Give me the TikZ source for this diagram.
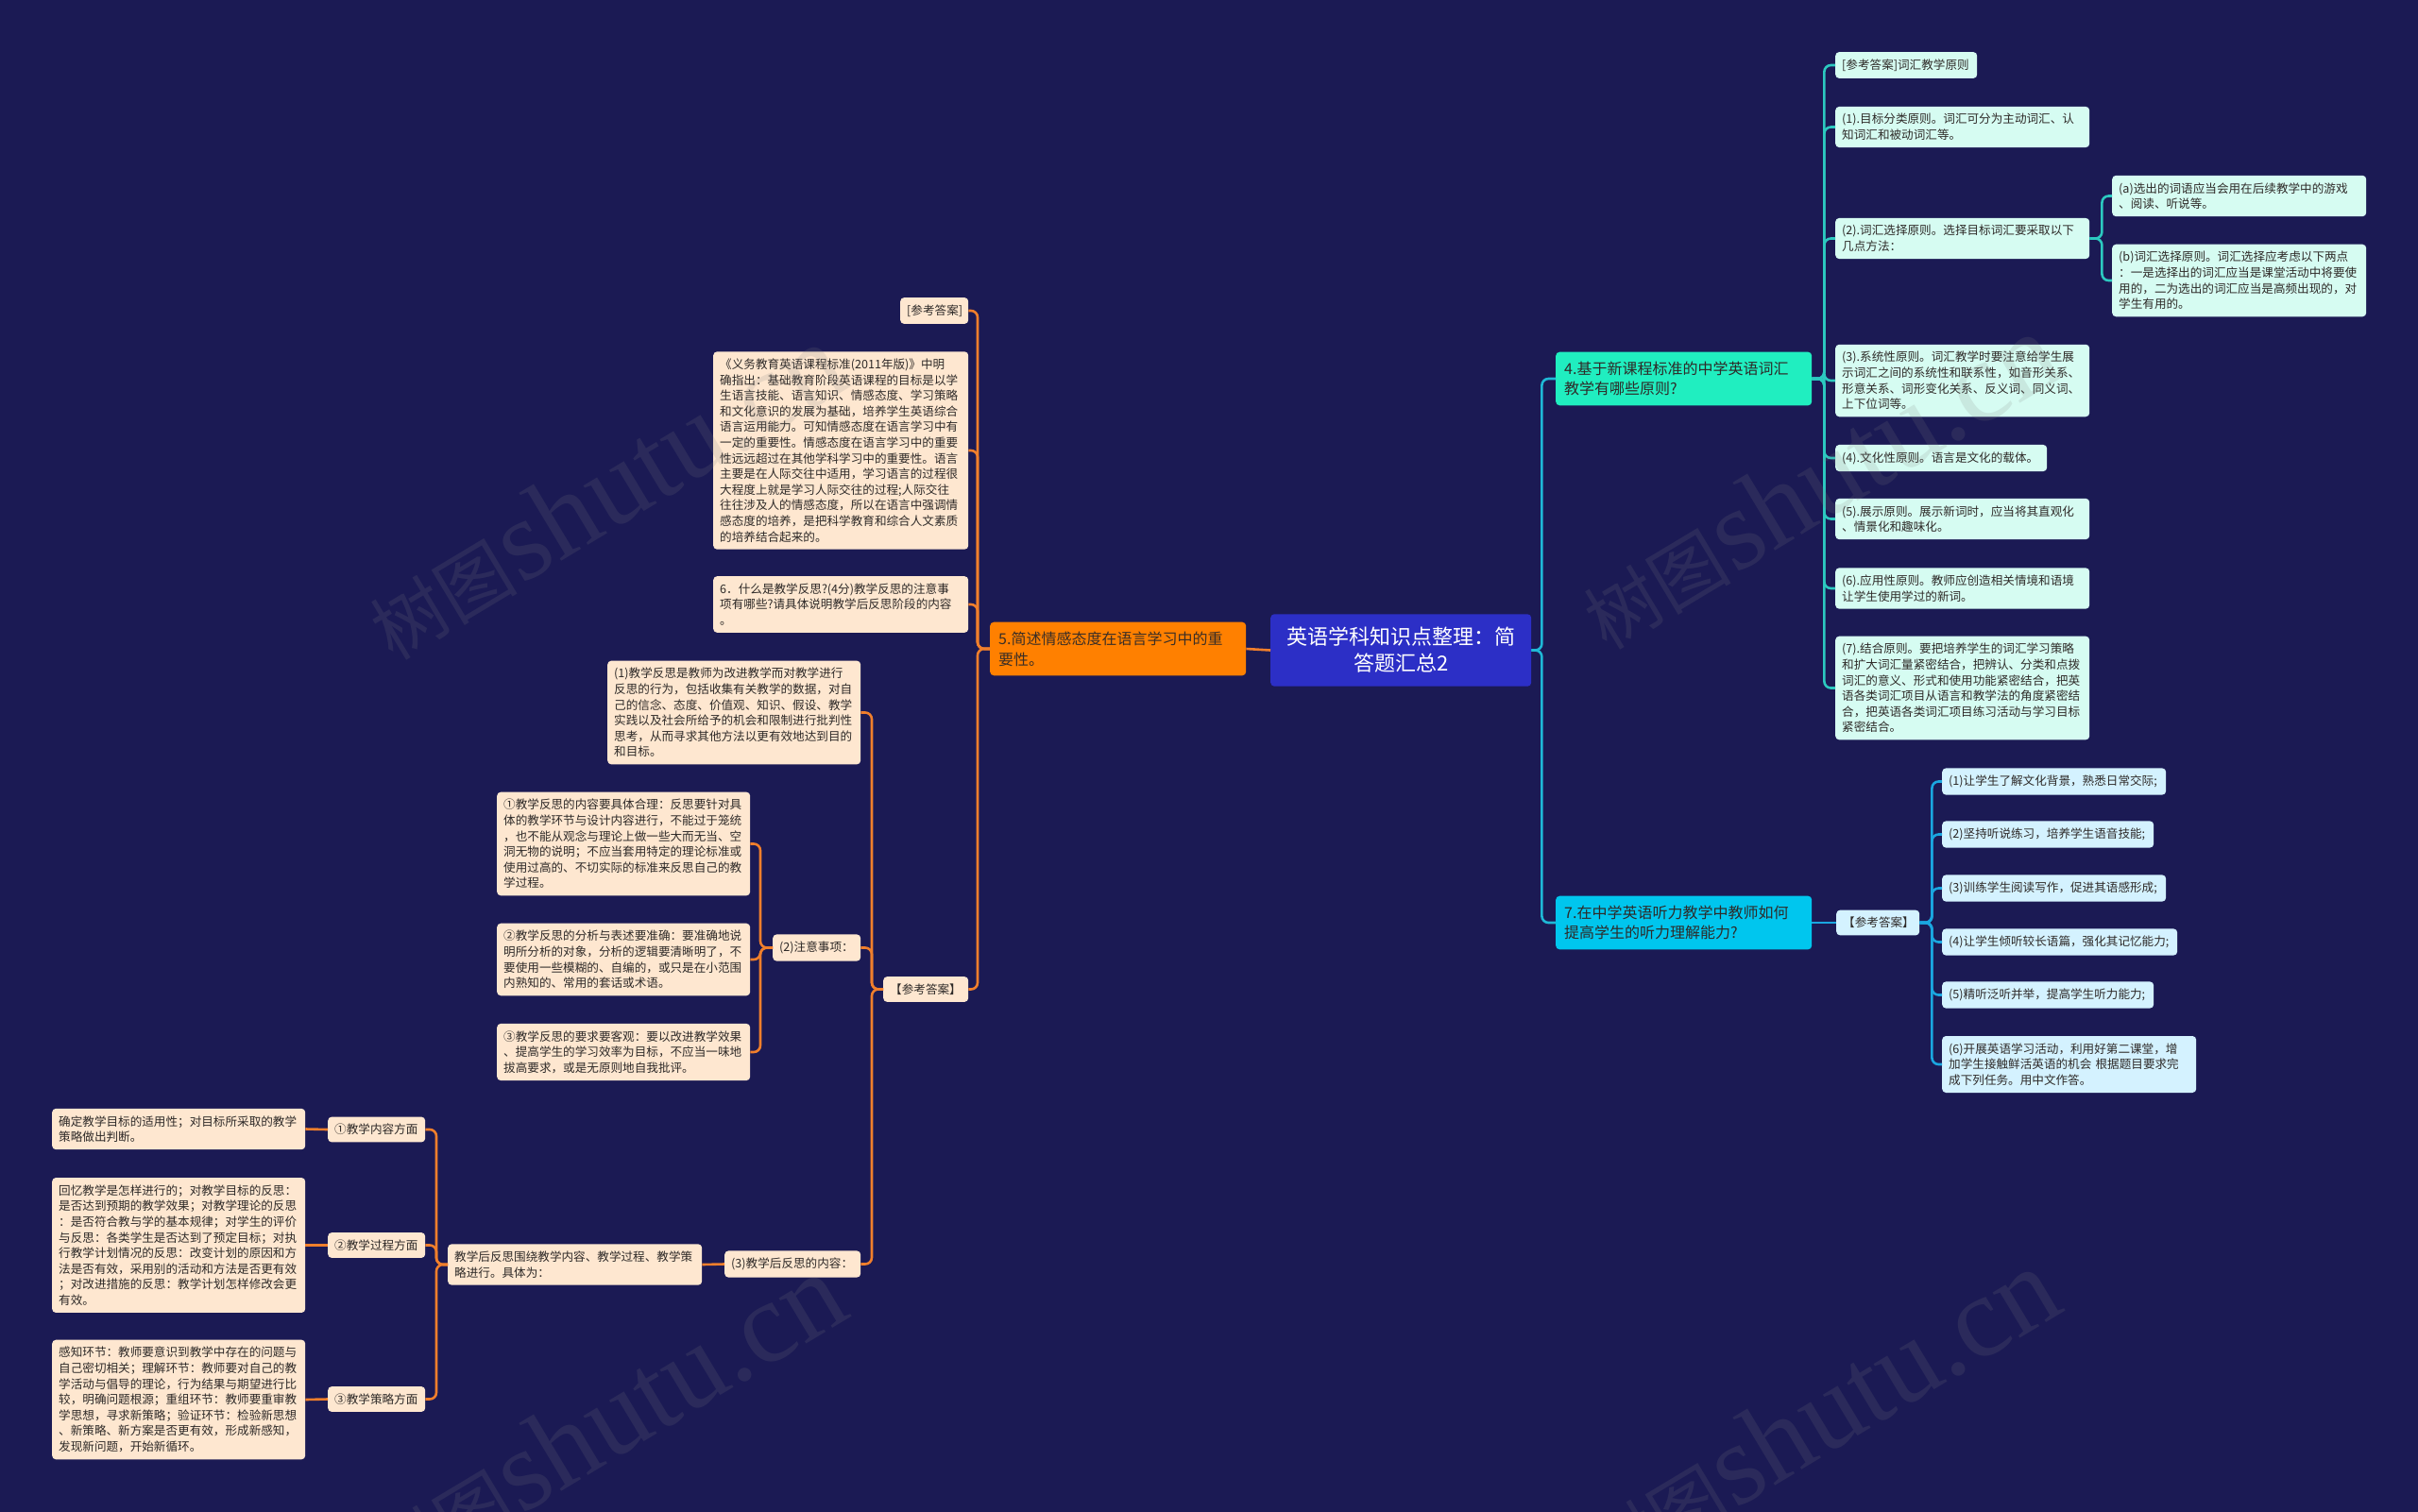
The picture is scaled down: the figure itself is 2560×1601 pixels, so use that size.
\documentclass[tikz,border=0pt]{standalone}
\usepackage{fontspec}
\setmainfont{Noto Sans CJK SC}
\newfontfamily\wmlatin{Liberation Serif}
\definecolor{bgc}{HTML}{1B1A54}
\definecolor{rootc}{HTML}{2C2FC6}
\definecolor{orangec}{HTML}{FF8000}
\definecolor{tealc}{HTML}{20EEC0}
\definecolor{cyanc}{HTML}{00C6EE}
\definecolor{peachc}{HTML}{FEE7D0}
\definecolor{mintc}{HTML}{D6FCF2}
\definecolor{skyc}{HTML}{D4F2FF}
\definecolor{orangeline}{HTML}{F07F2C}
\definecolor{tealline}{HTML}{2CC9C0}
\definecolor{rootline}{HTML}{1FB8D6}
\definecolor{blueline}{HTML}{1AA6E0}
\definecolor{leaftext}{HTML}{2E2A28}
\definecolor{branchtext}{HTML}{3A2E26}
\tikzset{
  base/.style={rounded corners=4pt, inner xsep=7pt, inner ysep=7.5pt, align=left, anchor=west,
    font=\fontsize{12.6}{16.6}\selectfont, text=leaftext},
  peach/.style={base, fill=peachc},
  mint/.style={base, fill=mintc},
  sky/.style={base, fill=skyc},
  branch/.style={rounded corners=4pt, inner xsep=9pt, inner ysep=10pt, align=left, anchor=west,
    text width=253pt, font=\fontsize{16}{21.7}\selectfont, text=branchtext},
  connO/.style={draw=orangeline, line width=2.6pt, rounded corners=7pt},
  connT/.style={draw=tealline, line width=2.6pt, rounded corners=7pt},
  connR/.style={draw=rootline, line width=2.6pt, rounded corners=7pt},
  connB/.style={draw=blueline, line width=2.6pt, rounded corners=7pt},
  wmark/.style={rotate=31, text=gray, text opacity=0.16, inner sep=0pt}
}
\newcommand{\wmtext}{{\fontsize{78}{80}\selectfont 树图}\,{\wmlatin\fontsize{122}{122}\selectfont shutu.cn}}
\begin{document}
\begin{tikzpicture}[x=1pt,y=-1pt]
\useasboundingbox (0,0) rectangle (2560,1601);
\fill[bgc] (0,0) rectangle (2560,1601);

% root
\node[rounded corners=4pt, fill=rootc, text=white, align=center, anchor=west, text width=256pt,
  inner xsep=10pt, inner ysep=14pt, font=\fontsize{22}{28}\selectfont] (root) at (1345,688.5)
  {英语学科知识点整理：简\\答题汇总2};

% branches
\node[branch, fill=orangec] (b5) at (1048,687) {5.简述情感态度在语言学习中的重\\要性。};
\node[branch, fill=tealc, text=leaftext] (b4) at (1647,401) {4.基于新课程标准的中学英语词汇\\教学有哪些原则?};
\node[branch, fill=cyanc, text=leaftext] (b7) at (1647,977) {7.在中学英语听力教学中教师如何\\提高学生的听力理解能力?};

% branch 4 children
\node[mint, text width=136pt] (a0) at (1943,69) {[参考答案]词汇教学原则};
\node[mint, text width=255pt] (a1) at (1943,134.5) {(1).目标分类原则。词汇可分为主动词汇、认\\知词汇和被动词汇等。};
\node[mint, text width=255pt] (a2) at (1943,252.5) {(2).词汇选择原则。选择目标词汇要采取以下\\几点方法：};
\node[mint, text width=255pt] (aa) at (2236,207.5) {(a)选出的词语应当会用在后续教学中的游戏\\、阅读、听说等。};
\node[mint, text width=255pt] (ab) at (2236,297) {(b)词汇选择原则。词汇选择应考虑以下两点\\：一是选择出的词汇应当是课堂活动中将要使\\用的，二为选出的词汇应当是高频出现的，对\\学生有用的。};
\node[mint, text width=255pt] (a3) at (1943,403) {(3).系统性原则。词汇教学时要注意给学生展\\示词汇之间的系统性和联系性，如音形关系、\\形意关系、词形变化关系、反义词、同义词、\\上下位词等。};
\node[mint, text width=210pt] (a4) at (1943,485) {(4).文化性原则。语言是文化的载体。};
\node[mint, text width=255pt] (a5) at (1943,549.5) {(5).展示原则。展示新词时，应当将其直观化\\、情景化和趣味化。};
\node[mint, text width=255pt] (a6) at (1943,623) {(6).应用性原则。教师应创造相关情境和语境\\让学生使用学过的新词。};
\node[mint, text width=255pt] (a7) at (1943,728.5) {(7).结合原则。要把培养学生的词汇学习策略\\和扩大词汇量紧密结合，把辨认、分类和点拨\\词汇的意义、形式和使用功能紧密结合，把英\\语各类词汇项目从语言和教学法的角度紧密结\\合，把英语各类词汇项目练习活动与学习目标\\紧密结合。};

% branch 7 children
\node[sky, text width=74pt] (r0) at (1944,977) {【参考答案】};
\node[sky, text width=223pt] (r1) at (2056,827.5) {(1)让学生了解文化背景，熟悉日常交际;};
\node[sky, text width=210pt] (r2) at (2056,883.5) {(2)坚持听说练习，培养学生语音技能;};
\node[sky, text width=223pt] (r3) at (2056,940.5) {(3)训练学生阅读写作，促进其语感形成;};
\node[sky, text width=235pt] (r4) at (2056,997.5) {(4)让学生倾听较长语篇，强化其记忆能力;};
\node[sky, text width=210pt] (r5) at (2056,1053.5) {(5)精听泛听并举，提高学生听力能力;};
\node[sky, text width=255pt] (r6) at (2056,1127) {(6)开展英语学习活动，利用好第二课堂，增\\加学生接触鲜活英语的机会 根据题目要求完\\成下列任务。用中文作答。};

% branch 5 children
\node[peach, text width=58pt] (c0) at (953,329) {[参考答案]};
\node[peach, text width=256pt] (c1) at (755,477) {《义务教育英语课程标准(2011年版)》中明\\确指出：基础教育阶段英语课程的目标是以学\\生语言技能、语言知识、情感态度、学习策略\\和文化意识的发展为基础，培养学生英语综合\\语言运用能力。可知情感态度在语言学习中有\\一定的重要性。情感态度在语言学习中的重要\\性远远超过在其他学科学习中的重要性。语言\\主要是在人际交往中适用，学习语言的过程很\\大程度上就是学习人际交往的过程;人际交往\\往往涉及人的情感态度，所以在语言中强调情\\感态度的培养，是把科学教育和综合人文素质\\的培养结合起来的。};
\node[peach, text width=256pt] (c2) at (755,640) {6．什么是教学反思?(4分)教学反思的注意事\\项有哪些?请具体说明教学后反思阶段的内容\\。};
\node[peach, text width=76pt] (c3) at (935,1047.5) {【参考答案】};

\node[peach, text width=254pt] (d1) at (643,754.5) {(1)教学反思是教师为改进教学而对教学进行\\反思的行为，包括收集有关教学的数据，对自\\己的信念、态度、价值观、知识、假设、教学\\实践以及社会所给予的机会和限制进行批判性\\思考，从而寻求其他方法以更有效地达到目的\\和目标。};
\node[peach, text width=79pt] (d2) at (818,1003.5) {(2)注意事项：};
\node[peach, text width=130pt] (d3) at (767,1338.5) {(3)教学后反思的内容：};

\node[peach, text width=254pt] (e1) at (526,893.5) {①教学反思的内容要具体合理：反思要针对具\\体的教学环节与设计内容进行，不能过于笼统\\，也不能从观念与理论上做一些大而无当、空\\洞无物的说明；不应当套用特定的理论标准或\\使用过高的、不切实际的标准来反思自己的教\\学过程。};
\node[peach, text width=254pt] (e2) at (526,1016) {②教学反思的分析与表述要准确：要准确地说\\明所分析的对象，分析的逻辑要清晰明了，不\\要使用一些模糊的、自编的，或只是在小范围\\内熟知的、常用的套话或术语。};
\node[peach, text width=254pt] (e3) at (526,1114) {③教学反思的要求要客观：要以改进教学效果\\、提高学生的学习效率为目标，不应当一味地\\拔高要求，或是无原则地自我批评。};

\node[peach, text width=255pt] (f0) at (474,1339) {教学后反思围绕教学内容、教学过程、教学策\\略进行。具体为：};

\node[peach, text width=89pt] (g1) at (347,1196) {①教学内容方面};
\node[peach, text width=89pt] (g2) at (347,1318.5) {②教学过程方面};
\node[peach, text width=89pt] (g3) at (347,1481.5) {③教学策略方面};

\node[peach, text width=254pt] (h1) at (55,1195.5) {确定教学目标的适用性；对目标所采取的教学\\策略做出判断。};
\node[peach, text width=254pt] (h2) at (55,1318.5) {回忆教学是怎样进行的；对教学目标的反思：\\是否达到预期的教学效果；对教学理论的反思\\：是否符合教与学的基本规律；对学生的评价\\与反思：各类学生是否达到了预定目标；对执\\行教学计划情况的反思：改变计划的原因和方\\法是否有效，采用别的活动和方法是否更有效\\；对改进措施的反思：教学计划怎样修改会更\\有效。};
\node[peach, text width=254pt] (h3) at (55,1482) {感知环节：教师要意识到教学中存在的问题与\\自己密切相关；理解环节：教师要对自己的教\\学活动与倡导的理论，行为结果与期望进行比\\较，明确问题根源；重组环节：教师要重审教\\学思想，寻求新策略；验证环节：检验新思想\\、新策略、新方案是否更有效，形成新感知，\\发现新问题，开始新循环。};

% connectors: root
\draw[connO] (root.west) -- (b5.east);
\draw[connR] (root.east) -- ++(11,0) |- (b4.west);
\draw[connR] (root.east) -- ++(11,0) |- (b7.west);

% branch 4
\foreach \n in {a0,a1,a2,a3,a4,a5,a6,a7}
  \draw[connT] (b4.east) -- ++(13,0) |- (\n.west);
\foreach \n in {aa,ab}
  \draw[connT] (a2.east) -- ++(13,0) |- (\n.west);

% branch 7
\draw[connB] (b7.east) -- (r0.west);
\foreach \n in {r1,r2,r3,r4,r5,r6}
  \draw[connB] (r0.east) -- ++(13,0) |- (\n.west);

% branch 5
\foreach \n in {c0,c1,c2,c3}
  \draw[connO] (b5.west) -- ++(-13,0) |- (\n.east);
\foreach \n in {d1,d2,d3}
  \draw[connO] (c3.west) -- ++(-12,0) |- (\n.east);
\foreach \n in {e1,e2,e3}
  \draw[connO] (d2.west) -- ++(-13,0) |- (\n.east);
\draw[connO] (d3.west) -- (f0.east);
\foreach \n in {g1,g2,g3}
  \draw[connO] (f0.west) -- ++(-12,0) |- (\n.east);
\draw[connO] (g1.west) -- (h1.east);
\draw[connO] (g2.west) -- (h2.east);
\draw[connO] (g3.west) -- (h3.east);

% watermarks (faint, on top as in the reference)
\node[wmark] (wm1) at (640,521) {\wmtext};
\node[wmark] (wm2) at (1925,510) {\wmtext};
\node[wmark] (wm3) at (640,1506) {\wmtext};
\node[wmark] (wm4) at (1925,1500) {\wmtext};
\end{tikzpicture}
\end{document}
